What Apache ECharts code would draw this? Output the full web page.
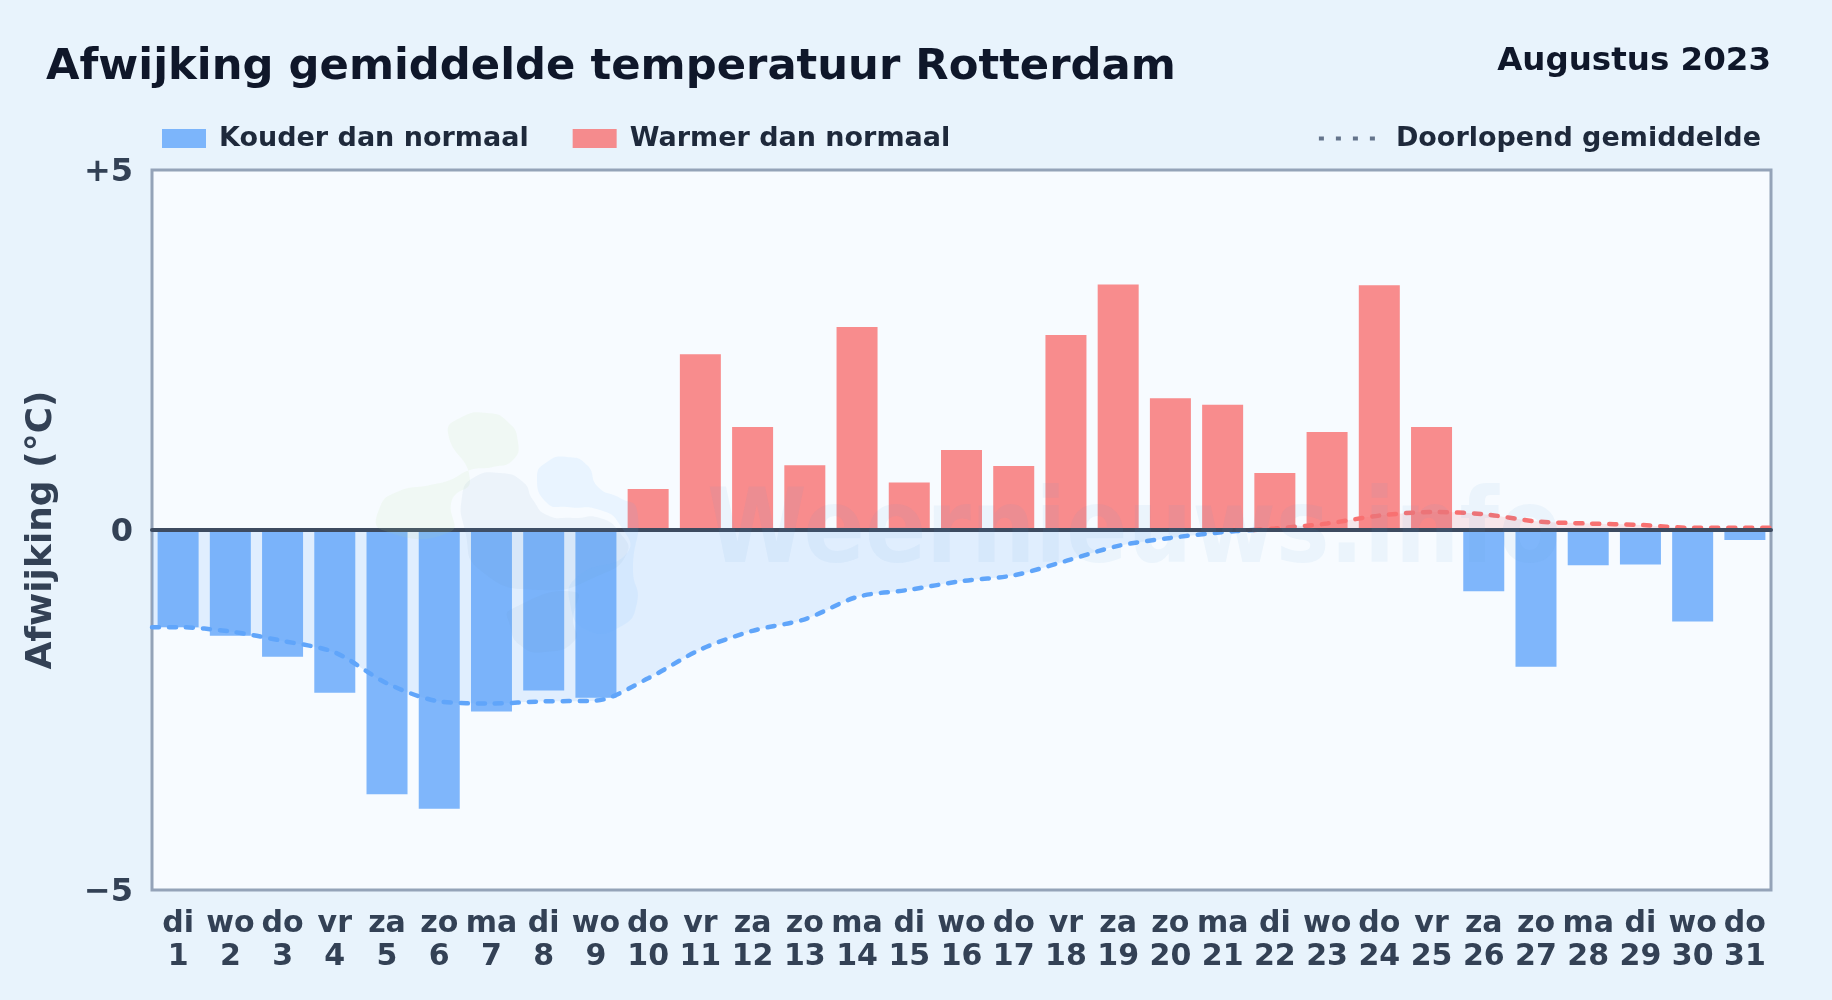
<!DOCTYPE html>
<html><head><meta charset="utf-8">
<style>html,body{margin:0;padding:0;background:#e8f3fc}#c{width:1832px;height:1000px}</style>
<script src="https://cdn.jsdelivr.net/npm/echarts@6/dist/echarts.min.js"></script>
</head><body><div id="c"></div>
<script>
const weekdays = ['di','wo','do','vr','za','zo','ma','di','wo','do','vr','za','zo','ma','di','wo','do','vr','za','zo','ma','di','wo','do','vr','za','zo','ma','di','wo','do'];
const dates = [1,2,3,4,5,6,7,8,9,10,11,12,13,14,15,16,17,18,19,20,21,22,23,24,25,26,27,28,29,30,31];
const deviation = [-1.35,-1.47,-1.76,-2.26,-3.67,-3.87,-2.52,-2.23,-2.33,0.57,2.44,1.43,0.9,2.82,0.66,1.11,0.89,2.71,3.41,1.83,1.74,0.79,1.36,3.40,1.43,-0.85,-1.9,-0.49,-0.48,-1.27,-0.14];
const runningMean = [-1.35,-1.41,-1.54,-1.70,-2.13,-2.38,-2.41,-2.38,-2.37,-2.06,-1.66,-1.40,-1.24,-0.93,-0.83,-0.71,-0.63,-0.43,-0.22,-0.11,-0.03,0.02,0.09,0.20,0.25,0.22,0.12,0.09,0.07,0.03,0.03];
const yTicks = {'5':'+5','0':'0','-5':'\u22125'};

const FONT = '"DejaVu Sans"';
const categories = weekdays.map((d,i)=>d+'\n'+dates[i]);
const cold = deviation.map(v=>v<0?v:null);
const warm = deviation.map(v=>v>=0?v:null);
const meanPts = [[0,runningMean[0]]].concat(runningMean.map((v,i)=>[i+0.5,v]),[[31,runningMean[30]]]);
const flip = meanPts.findIndex(p=>p[1]>0);
const a = meanPts[flip-1], b = meanPts[flip];
const crossing = [a[0]+(b[0]-a[0])*(0-a[1])/(b[1]-a[1]),0];
const meanBelow = meanPts.slice(0,flip).concat([crossing]);
const meanAbove = [crossing].concat(meanPts.slice(flip));

const blob = (pts,fill)=>({type:'polygon',silent:true,z:50,shape:{points:pts,smooth:0.55},style:{fill}});
const graphic = [
  blob([[448,433],[460,418],[487,413],[508,422],[518,442],[513,460],[493,467],[470,470],[450,480],[430,485],[397,492],[380,507],[382,530],[450,532],[452,500],[470,480]],'rgba(190,225,150,0.10)'),
  blob([[462,497],[473,478],[500,473],[523,482],[533,500],[547,515],[573,518],[600,518],[620,533],[627,553],[600,575],[540,590],[480,570],[465,530]],'rgba(100,140,190,0.07)'),
  blob([[510,610],[575,592],[573,620],[575,640],[545,652],[520,645],[510,625]],'rgba(100,140,190,0.07)'),
  blob([[537,477],[547,462],[567,457],[587,465],[598,487],[620,498],[637,510],[633,570],[637,603],[620,627],[587,630],[570,603],[577,577],[627,553],[620,525],[600,510],[567,507],[547,503]],'rgba(96,180,250,0.09)'),
  {type:'text',silent:true,z:50,x:707,y:535,scaleX:0.87,style:{text:'Weernieuws.info',x:0,y:0,verticalAlign:'middle',font:'bold 104px '+FONT,fill:'rgba(90,150,215,0.07)'}}
];

const chart = echarts.init(document.getElementById('c'),null,{renderer:'canvas'});
chart.setOption({
  animation:false,
  backgroundColor:'#e8f3fc',
  title:[
    {text:'Afwijking gemiddelde temperatuur Rotterdam',left:46,top:46,padding:0,textStyle:{fontFamily:FONT,fontWeight:'bold',fontSize:43.3,color:'#0f172a'}},
    {text:'Augustus 2023',right:61,top:45,padding:0,textStyle:{fontFamily:FONT,fontWeight:'bold',fontSize:32.5,color:'#0f172a'}}
  ],
  legend:[
    {data:['Kouder dan normaal','Warmer dan normaal'],left:162,top:125,padding:0,itemWidth:44,itemHeight:19,itemGap:44,icon:'rect',
     textStyle:{fontFamily:FONT,fontWeight:'bold',fontSize:27,color:'#1e293b',padding:[0,0,0,8]}},
    {data:['Doorlopend gemiddelde'],right:71,top:125,padding:0,itemWidth:57,itemHeight:19,
     itemStyle:{opacity:0},lineStyle:{color:'#64748b',width:4,type:[5,12],opacity:1},
     textStyle:{fontFamily:FONT,fontWeight:'bold',fontSize:27,color:'#1e293b',padding:[0,0,0,15]}}
  ],
  grid:{left:152,right:61,top:170,bottom:110,show:true,backgroundColor:'#f7fbff',borderColor:'#94a3b8',borderWidth:3},
  xAxis:[
    {type:'category',data:categories,position:'bottom',boundaryGap:true,
     axisLine:{show:false,onZero:false},axisTick:{show:false},
     axisLabel:{interval:0,margin:17,fontFamily:FONT,fontWeight:'bold',fontSize:30,lineHeight:33.5,color:'#334155',hideOverlap:false}},
    {type:'value',min:0,max:31,position:'bottom',z:5,
     axisLine:{show:true,onZero:true,onZeroAxisIndex:0,lineStyle:{color:'#3d4b60',width:4}},
     axisTick:{show:false},axisLabel:{show:false},splitLine:{show:false}}
  ],
  yAxis:{type:'value',min:-5,max:5,interval:5,
    axisLine:{show:false},axisTick:{show:false},splitLine:{show:false},
    axisLabel:{margin:19,fontFamily:FONT,fontWeight:'bold',fontSize:32,color:'#334155',formatter:v=>'{t|'+yTicks[String(v)]+'}',
      rich:{t:{fontFamily:FONT,fontWeight:'bold',fontSize:32,color:'#334155',padding:[6,0,0,0]}}},
    name:'Afwijking (\u00b0C)',nameLocation:'middle',nameGap:92,nameRotate:90,
    nameTextStyle:{fontFamily:FONT,fontWeight:'bold',fontSize:36,color:'#334155'}},
  series:[
    {name:'Kouder dan normaal',type:'bar',data:cold,barWidth:41,barGap:'-100%',itemStyle:{color:'rgba(96,165,250,0.8)'},z:2},
    {name:'Warmer dan normaal',type:'bar',data:warm,barWidth:41,barGap:'-100%',itemStyle:{color:'rgba(248,113,113,0.8)'},z:2},
    {name:'gemiddelde koud',type:'line',xAxisIndex:1,data:meanBelow,smooth:0.3,symbol:'none',z:4,
     lineStyle:{color:'#60a5fa',width:4.5,type:[7,10],cap:'round'},areaStyle:{color:'#60a5fa',opacity:0.15}},
    {name:'gemiddelde warm',type:'line',xAxisIndex:1,data:meanAbove,smooth:0.3,symbol:'none',z:4,
     lineStyle:{color:'#f87171',width:4.5,type:[7,10],cap:'round'},areaStyle:{color:'#f87171',opacity:0.15}},
    {name:'Doorlopend gemiddelde',type:'line',xAxisIndex:1,data:[],symbol:'none',color:'#64748b',lineStyle:{color:'#64748b',width:4,type:[5,12]}}
  ],
  graphic
});
</script></body></html>
